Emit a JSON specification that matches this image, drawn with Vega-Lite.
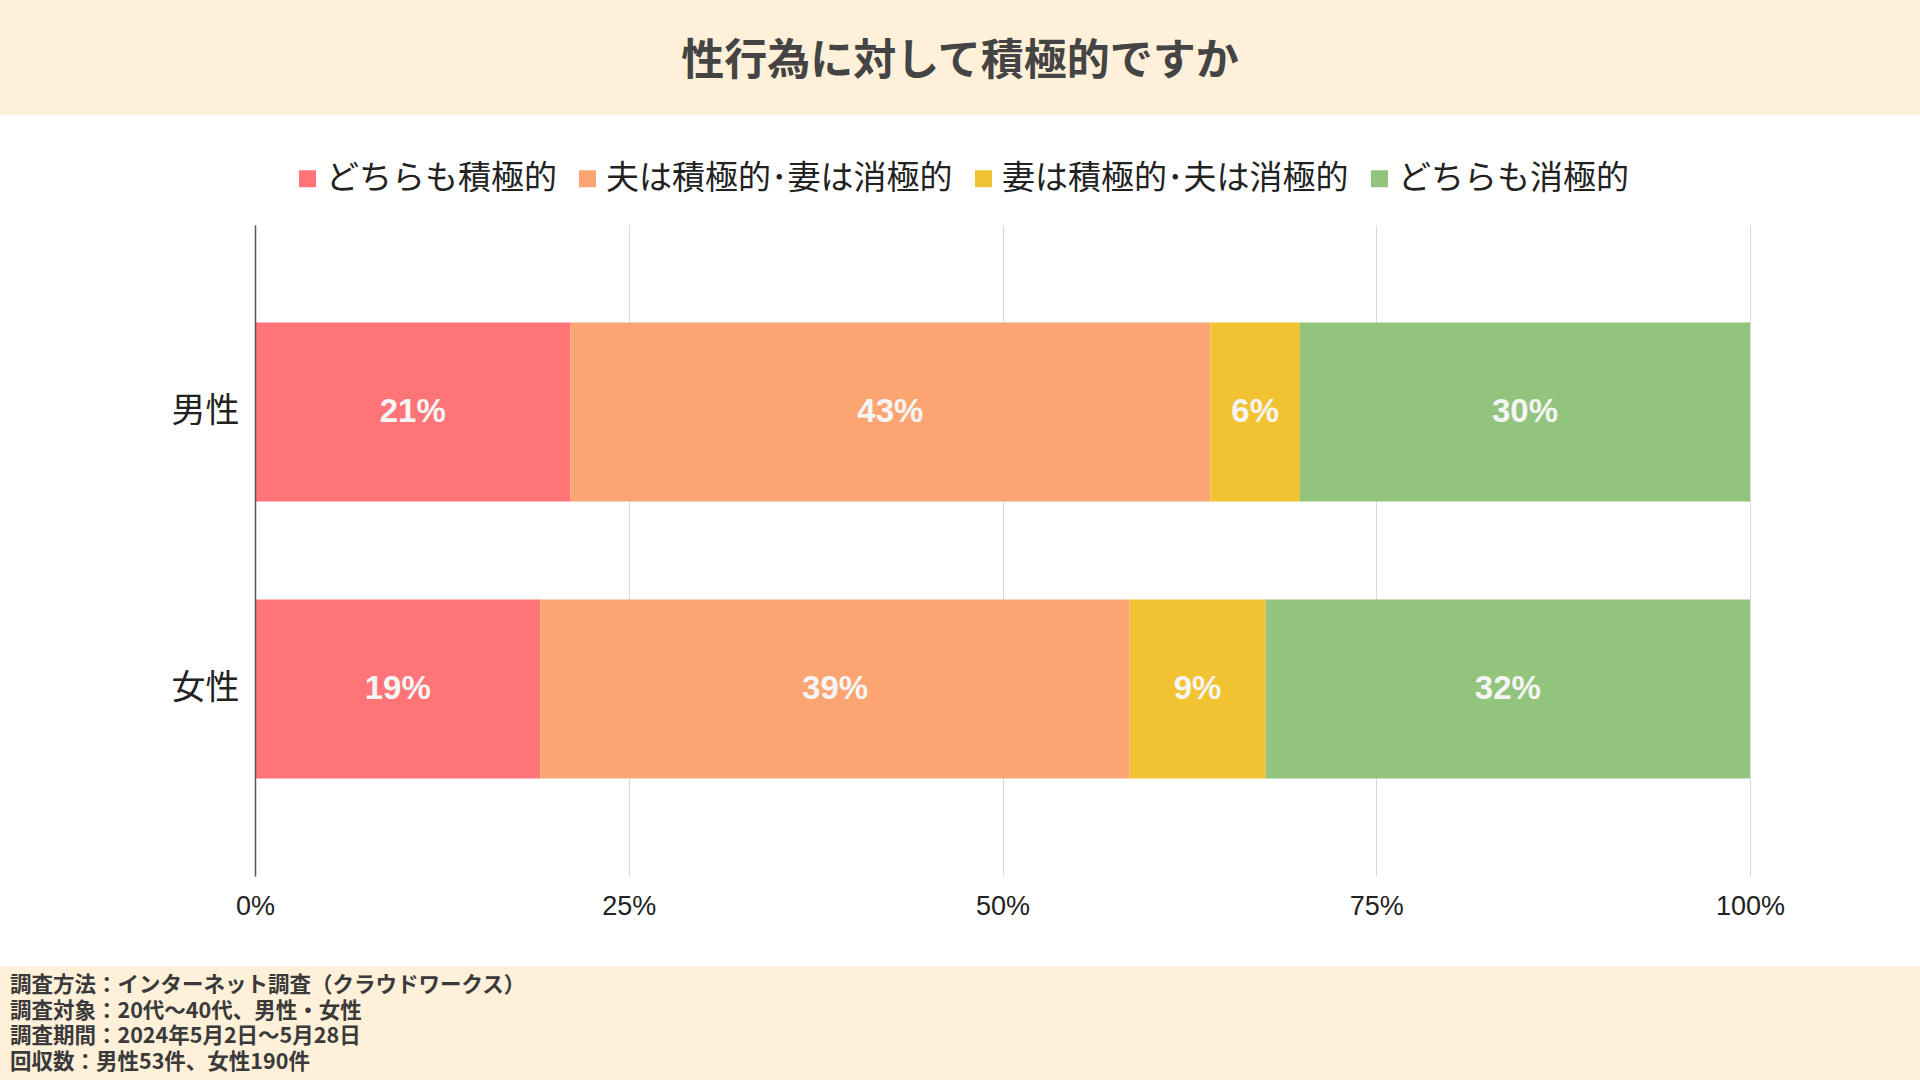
{
  "$schema": "https://vega.github.io/schema/vega-lite/v6.json",
  "background": "white",
  "padding": 0,
  "spacing": 47,
  "bounds": "full",
  "config": {
    "view": {"stroke": null},
    "legend": {"layout": {"top": {"anchor": "middle"}}}
  },
  "resolve": {"scale": {"color": "independent"}, "legend": {"color": "independent"}},
  "vconcat": [
    {
      "width": 1920,
      "height": 115,
      "view": {"fill": "#FFF0D9", "stroke": null},
      "data": {"values": [{"title": "性行為に対して積極的ですか"}]},
      "mark": {"type": "text", "font": "Noto Sans CJK JP", "fontSize": 43, "fontWeight": "bold", "color": "#444444", "dy": 4},
      "encoding": {"text": {"field": "title"}}
    },
    {
      "width": 1920,
      "height": 651,
      "data": {
        "values": [
          {"sex": "男性", "answer": "どちらも積極的", "k": 1, "pct": 0.211},
          {"sex": "男性", "answer": "夫は積極的･妻は消極的", "k": 2, "pct": 0.428},
          {"sex": "男性", "answer": "妻は積極的･夫は消極的", "k": 3, "pct": 0.06},
          {"sex": "男性", "answer": "どちらも消極的", "k": 4, "pct": 0.301},
          {"sex": "女性", "answer": "どちらも積極的", "k": 1, "pct": 0.191},
          {"sex": "女性", "answer": "夫は積極的･妻は消極的", "k": 2, "pct": 0.394},
          {"sex": "女性", "answer": "妻は積極的･夫は消極的", "k": 3, "pct": 0.091},
          {"sex": "女性", "answer": "どちらも消極的", "k": 4, "pct": 0.324}
        ]
      },
      "encoding": {
        "y": {
          "field": "sex",
          "type": "nominal",
          "sort": ["男性", "女性"],
          "scale": {"paddingInner": 0.354, "paddingOuter": 0.352},
          "axis": {
            "title": null,
            "offset": -255,
            "domain": true,
            "domainColor": "#555555",
            "domainWidth": 1.5,
            "ticks": false,
            "labelFont": "Noto Sans CJK JP",
            "labelFontSize": 34,
            "labelColor": "#222222",
            "labelPadding": 16,
            "zindex": 1
          }
        },
        "x": {
          "field": "pct",
          "type": "quantitative",
          "stack": "normalize",
          "scale": {"domain": [-0.170569, 1.113712], "zero": false, "nice": false},
          "axis": {
            "title": null,
            "values": [0, 0.25, 0.5, 0.75, 1],
            "format": ".0%",
            "domain": false,
            "ticks": false,
            "tickSize": 0,
            "grid": true,
            "gridColor": "#D9D9D9",
            "labelFlush": false,
            "labelFont": "Liberation Sans",
            "labelFontSize": 27,
            "labelColor": "#222222",
            "labelPadding": 17
          }
        },
        "order": {"field": "k", "type": "quantitative"}
      },
      "layer": [
        {
          "mark": {"type": "bar"},
          "encoding": {
            "color": {
              "field": "answer",
              "type": "nominal",
              "scale": {
                "domain": ["どちらも積極的", "夫は積極的･妻は消極的", "妻は積極的･夫は消極的", "どちらも消極的"],
                "range": ["#FF7476", "#FCA573", "#F1C232", "#93C47D"]
              },
              "legend": {
                "title": null,
                "orient": "top",
                "direction": "horizontal",
                "offset": 29,
                "padding": 0,
                "symbolType": "square",
                "symbolSize": 289,
                "symbolStrokeWidth": 0,
                "labelFont": "Noto Sans CJK JP",
                "labelFontSize": 33,
                "labelColor": "#222222",
                "labelOffset": 2,
                "columnPadding": 14,
                "labelLimit": 500
              }
            }
          }
        },
        {
          "mark": {"type": "text", "font": "Liberation Sans", "fontSize": 33, "fontWeight": "bold", "color": "#F5F5F5"},
          "encoding": {
            "x": {"field": "pct", "type": "quantitative", "stack": "normalize", "bandPosition": 0.5},
            "text": {"field": "pct", "type": "quantitative", "format": ".0%"}
          }
        }
      ]
    },
    {
      "width": 1920,
      "height": 115,
      "view": {"fill": "#FFF0D9", "stroke": null},
      "data": {
        "values": [
          {"n": 1, "line": "調査方法：インターネット調査（クラウドワークス）"},
          {"n": 2, "line": "調査対象：20代～40代、男性・女性"},
          {"n": 3, "line": "調査期間：2024年5月2日～5月28日"},
          {"n": 4, "line": "回収数：男性53件、女性190件"}
        ]
      },
      "mark": {"type": "text", "font": "Noto Sans CJK JP", "fontSize": 21.5, "fontWeight": "bold", "color": "#3A3A3A", "align": "left", "dx": 10, "dy": 1},
      "encoding": {
        "x": {"datum": 0, "type": "quantitative", "scale": {"domain": [0, 1]}, "axis": null},
        "y": {"field": "n", "type": "ordinal", "scale": {"type": "point", "padding": 0.74}, "axis": null},
        "text": {"field": "line"}
      }
    }
  ]
}
